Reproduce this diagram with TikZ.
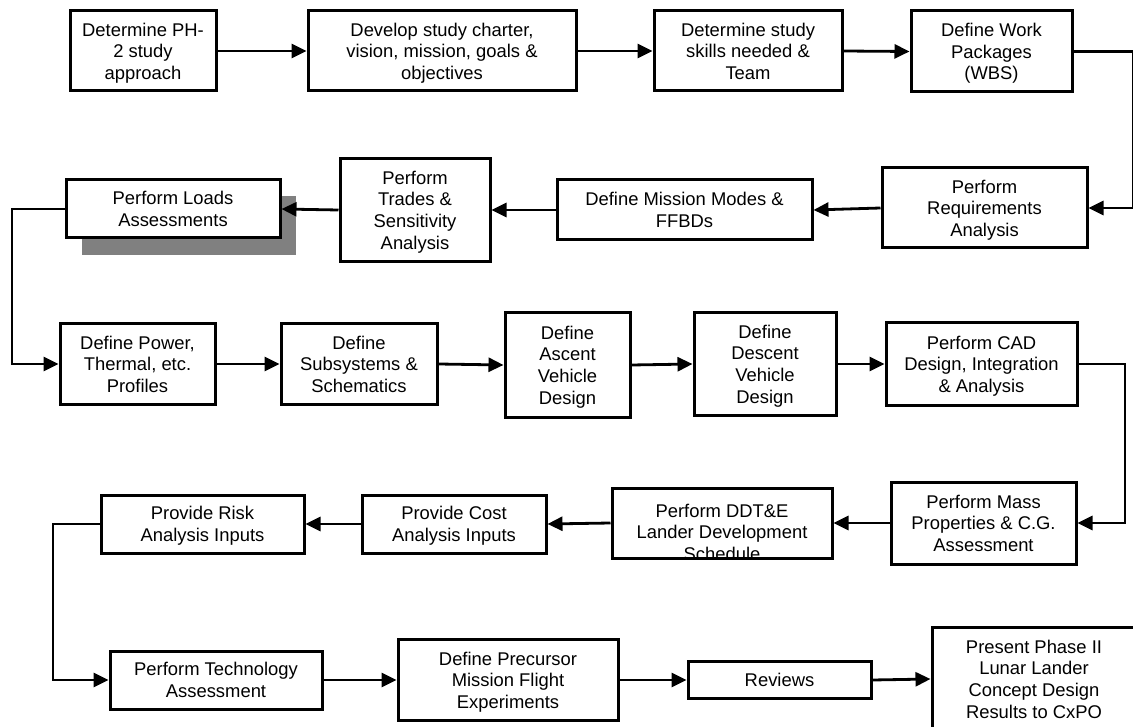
\documentclass[tikz,border=0pt]{standalone}
\usepackage{fontspec}
\setmainfont{Liberation Sans}
\usetikzlibrary{arrows.meta}
\definecolor{shadowgray}{HTML}{808080}
% invisible rules that even out the first and last line of every label
\newcommand{\lnup}{\rule{0pt}{18pt}}
\newcommand{\lndown}{\rule[-4.5pt]{0pt}{4.5pt}}
\begin{document}
\begin{tikzpicture}[x=1pt,y=-1pt,
  boxtext/.style={align=center, inner sep=0pt, font=\fontsize{18.4}{21.7}\selectfont},
  box/.style={boxtext, draw, line width=3pt, fill=white},
  arr/.style={line width=2.8pt, -{Triangle[length=15pt,width=14pt]}},
]
\fill[white] (0,0) rectangle (1133,727);
\useasboundingbox (0,0) rectangle (1133,727);

% row 1
\node[box, minimum width=146pt, minimum height=80pt] (b1) at (143,51) {\lnup Determine PH-\\2 study\\approach\lndown};
\node[box, minimum width=268pt, minimum height=80pt] (b2) at (442,51) {\lnup Develop study charter,\\vision, mission, goals \&\\objectives\lndown};
\node[box, minimum width=188pt, minimum height=80pt] (b3) at (748,51) {\lnup Determine study\\skills needed \&\\Team\lndown};
\node[box, minimum width=161pt, minimum height=81pt] (b4) at (991.5,51.5) {\lnup Define Work\\Packages\\(WBS)\lndown};

% row 2
\node[box, minimum width=205pt, minimum height=80pt] (b5) at (984.5,208) {\lnup Perform\\Requirements\\Analysis\lndown};
\node[box, minimum width=255pt, minimum height=60pt] (b6) at (684.5,210) {\lnup Define Mission Modes \&\\FFBDs\lndown};
\node[box, minimum width=150pt, minimum height=103pt] (b7) at (415,210) {\lnup Perform\\Trades \&\\Sensitivity\\Analysis\lndown};
\node[fill=shadowgray, inner sep=0pt, minimum width=214pt, minimum height=59pt] (b8shadow) at (189,225.5) {};
\node[box, minimum width=214pt, minimum height=58pt] (b8) at (173,209) {\lnup Perform Loads\\Assessments\lndown};

% row 3
\node[box, minimum width=155pt, minimum height=80pt] (b9) at (137.5,364) {\lnup Define Power,\\Thermal, etc.\\Profiles\lndown};
\node[box, minimum width=156pt, minimum height=81pt] (b10) at (359,364) {\lnup Define\\Subsystems \&\\Schematics\lndown};
\node[box, minimum width=125pt, minimum height=104pt] (b11) at (567.5,365) {\lnup Define\\Ascent\\Vehicle\\Design\lndown};
\node[box, minimum width=142pt, minimum height=103pt] (b12) at (765,364) {\lnup Define\\Descent\\Vehicle\\Design\lndown};
\node[box, minimum width=191pt, minimum height=82pt] (b13) at (981.5,364) {\lnup Perform CAD\\Design, Integration\\\& Analysis\lndown};

% row 4
\node[box, minimum width=185pt, minimum height=82pt] (b14) at (983.5,523) {\lnup Perform Mass\\Properties \& C.G.\\Assessment\lndown};
\node[box, minimum width=220pt, minimum height=70pt] (b15) at (722,523) {};
\begin{scope}
  \clip (613.5,489.5) rectangle (830.5,556.5);
  \node[boxtext] (b15text) at (722,532) {\lnup Perform DDT\&E\\Lander Development\\Schedule\lndown};
\end{scope}
\node[box, minimum width=184pt, minimum height=58pt] (b16) at (454,524) {\lnup Provide Cost\\Analysis Inputs\lndown};
\node[box, minimum width=203pt, minimum height=58pt] (b17) at (202.5,524) {\lnup Provide Risk\\Analysis Inputs\lndown};

% row 5
\node[box, minimum width=212pt, minimum height=58pt] (b18) at (216,680) {\lnup Perform Technology\\Assessment\lndown};
\node[box, minimum width=220pt, minimum height=81pt] (b19) at (508,680) {\lnup Define Precursor\\Mission Flight\\Experiments\lndown};
\node[box, minimum width=183pt, minimum height=37pt] (b20) at (779.5,680) {\lnup Reviews\lndown};
\node[box, minimum width=204pt, minimum height=104pt] (b21) at (1034,679) {\lnup Present Phase II\\Lunar Lander\\Concept Design\\Results to CxPO\lndown};

% bends of the routed connectors
\coordinate (e1) at (1133.8,51.5);
\coordinate (e2) at (1133.8,208);
\coordinate (l1) at (12,290);
\coordinate (r1) at (1125,440);
\coordinate (l2) at (53,600);

% connectors
\draw[arr] (b1.east) -- (b2.west);
\draw[arr] (b2.east) -- (b3.west);
\draw[arr] (b3.east) -- (b4.west);
\draw[arr] (b4.east) -- (e1) -- (e2) -- (b5.east);
\draw[arr] (b5.west) -- (b6.east);
\draw[arr] (b6.west) -- (b7.east);
\draw[arr] (b7.west) -- (b8.east);
\draw[arr] (b8.west) -| (l1) |- (b9.west);
\draw[arr] (b9.east) -- (b10.west);
\draw[arr] (b10.east) -- (b11.west);
\draw[arr] (b11.east) -- (b12.west);
\draw[arr] (b12.east) -- (b13.west);
\draw[arr] (b13.east) -| (r1) |- (b14.east);
\draw[arr] (b14.west) -- (b15.east);
\draw[arr] (b15.west) -- (b16.east);
\draw[arr] (b16.west) -- (b17.east);
\draw[arr] (b17.west) -| (l2) |- (b18.west);
\draw[arr] (b18.east) -- (b19.west);
\draw[arr] (b19.east) -- (b20.west);
\draw[arr] (b20.east) -- (b21.west);
\end{tikzpicture}
\end{document}
